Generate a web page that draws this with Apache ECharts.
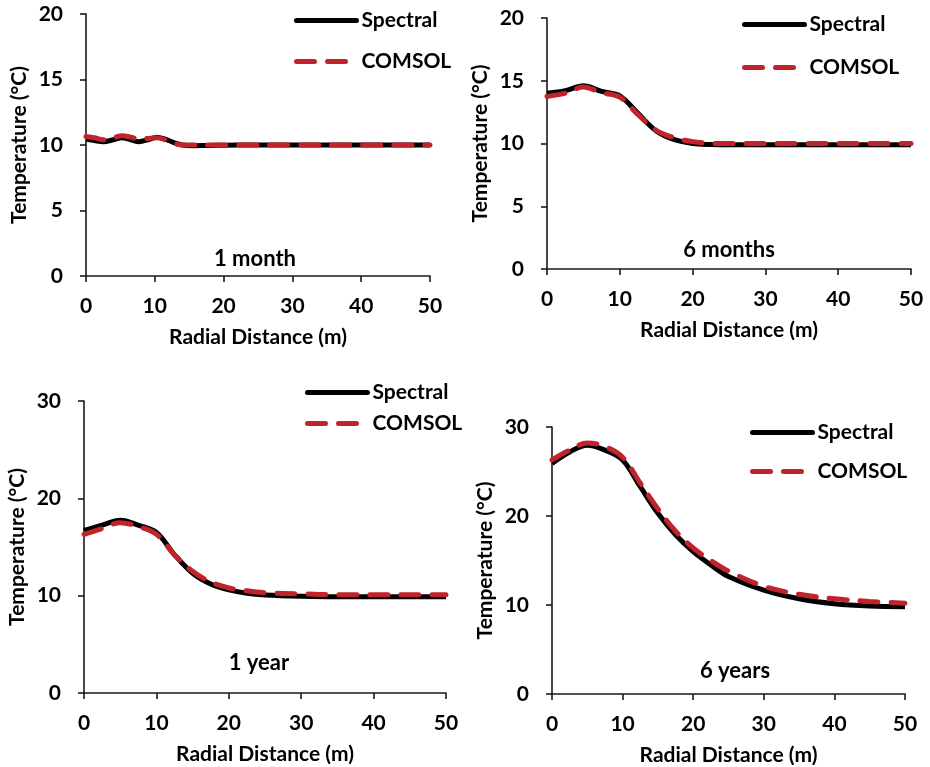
<!DOCTYPE html>
<html>
<head>
<meta charset="utf-8">
<script src="https://cdn.jsdelivr.net/npm/echarts@6/dist/echarts.min.js"></script>
<style>html,body{margin:0;padding:0;background:#fff}#c{width:930px;height:767px}</style>
</head>
<body>
<div id="c"></div>
<script>
// ---- data ----
const panelLabels = ['1 month', '6 months', '1 year', '6 years'];
const xTicks = [0, 10, 20, 30, 40, 50];

const x1 = [0, 1.2, 2.5, 4, 5.2, 6.5, 7.7, 9, 10.3, 11.5, 12.7, 14, 15.5, 18, 22, 30, 40, 50];
const spectral1 = [10.45, 10.35, 10.25, 10.4, 10.55, 10.4, 10.25, 10.4, 10.6, 10.45, 10.2, 10.0, 9.95, 9.97, 10, 10, 10, 10];
const comsol1 = [10.65, 10.55, 10.4, 10.55, 10.7, 10.6, 10.45, 10.5, 10.55, 10.4, 10.15, 10.0, 10.0, 10.0, 10, 10, 10, 10];

const xStd = [0, 2.5, 5, 7.5, 10, 12.5, 15, 17.5, 20, 22.5, 25, 30, 35, 40, 45, 50];
const spectral2 = [14.0, 14.2, 14.6, 14.15, 13.8, 12.4, 11.0, 10.3, 10.0, 9.92, 9.9, 9.9, 9.9, 9.9, 9.9, 9.9];
const comsol2 = [13.75, 14.0, 14.5, 14.05, 13.7, 12.3, 11.05, 10.45, 10.15, 10.02, 10.0, 10.0, 10.0, 10.0, 10.0, 10.0];

const spectral3 = [16.7, 17.25, 17.75, 17.25, 16.5, 14.2, 12.3, 11.2, 10.6, 10.25, 10.08, 9.95, 9.9, 9.9, 9.9, 9.9];
const comsol3 = [16.3, 16.9, 17.5, 17.1, 16.3, 14.2, 12.5, 11.4, 10.8, 10.5, 10.3, 10.18, 10.1, 10.1, 10.1, 10.1];

const spectral4 = [25.9, 27.2, 27.95, 27.4, 26.3, 23.3, 20.3, 17.9, 16.0, 14.5, 13.2, 11.67, 10.7, 10.14, 9.88, 9.8];
const comsol4 = [26.3, 27.4, 28.2, 27.8, 26.6, 23.7, 20.8, 18.3, 16.4, 15.0, 13.8, 12.1, 11.2, 10.7, 10.4, 10.2];

const yMax = [20, 20, 30, 30];
const yStep = [5, 5, 10, 10];

// ---- layout ----
const FONT = 'Lato';
const grids = [
  {left: 86, top: 14, width: 344, height: 262},
  {left: 547, top: 18, width: 364, height: 251},
  {left: 84, top: 401, width: 362, height: 292},
  {left: 552, top: 427, width: 353, height: 268}
];
const legendPos = [
  {left: 294, top: 10, gap: 20},
  {left: 742, top: 14, gap: 22},
  {left: 305, top: 382, gap: 10},
  {left: 750, top: 422, gap: 18}
];
const labelPos = [[255, 259], [729, 250], [259, 663], [735, 671]];

const pairs = (xs, ys) => xs.map((x, i) => [x, ys[i]]);
const seriesData = [
  [pairs(x1, spectral1), pairs(x1, comsol1)],
  [pairs(xStd, spectral2), pairs(xStd, comsol2)],
  [pairs(xStd, spectral3), pairs(xStd, comsol3)],
  [pairs(xStd, spectral4), pairs(xStd, comsol4)]
];

const axisLineStyle = {color: '#1a1a1a', width: 1.6};
const xAxes = [], yAxes = [], series = [], legends = [], graphics = [];
grids.forEach((g, i) => {
  xAxes.push({
    type: 'value', gridIndex: i, min: 0, max: 50, interval: 10,
    axisLine: {show: true, onZero: false, lineStyle: axisLineStyle},
    axisTick: {show: true, length: 6, lineStyle: axisLineStyle},
    splitLine: {show: false},
    axisLabel: {color: '#000', fontFamily: FONT, fontWeight: 'bold', fontSize: 21, margin: 20},
    name: 'Radial Distance (m)', nameLocation: 'middle', nameGap: 51,
    nameTextStyle: {color: '#000', fontFamily: FONT, fontWeight: 'bold', fontSize: 21}
  });
  yAxes.push({
    type: 'value', gridIndex: i, min: 0, max: yMax[i], interval: yStep[i],
    axisLine: {show: true, lineStyle: axisLineStyle},
    axisTick: {show: true, length: 6, lineStyle: axisLineStyle},
    splitLine: {show: false},
    axisLabel: {color: '#000', fontFamily: FONT, fontWeight: 'bold', fontSize: 21, margin: 23},
    name: 'Temperature (°C)', nameLocation: 'middle', nameGap: 56,
    nameTextStyle: {color: '#000', fontFamily: FONT, fontWeight: 'bold', fontSize: 21}
  });
  series.push({
    name: 'Spectral', type: 'line', xAxisIndex: i, yAxisIndex: i,
    data: seriesData[i][0], smooth: 0.35, symbol: 'none',
    lineStyle: {color: '#000', width: 5}, itemStyle: {color: '#000'}, z: 2
  });
  series.push({
    name: 'COMSOL', type: 'line', xAxisIndex: i, yAxisIndex: i,
    data: seriesData[i][1], smooth: 0.35, symbol: 'none',
    lineStyle: {color: '#c1232b', width: 5, type: [18, 13], cap: 'round'},
    itemStyle: {color: '#c1232b'}, z: 3
  });
  legends.push({
    data: ['Spectral', 'COMSOL'], orient: 'vertical',
    left: legendPos[i].left, top: legendPos[i].top, itemGap: legendPos[i].gap,
    itemWidth: 60, itemHeight: 20, padding: 0, selectedMode: false,
    itemStyle: {opacity: 0},
    lineStyle: {width: 'inherit', type: 'inherit', cap: 'round'},
    textStyle: {color: '#000', fontFamily: FONT, fontWeight: 'bold', fontSize: 21}
  });
  graphics.push({
    type: 'text', x: labelPos[i][0], y: labelPos[i][1],
    style: {text: panelLabels[i], fill: '#000', font: 'bold 22px ' + FONT, textAlign: 'center', textVerticalAlign: 'middle'}
  });
});

const chart = echarts.init(document.getElementById('c'), null, {renderer: 'canvas'});
chart.setOption({
  animation: false,
  grid: grids,
  xAxis: xAxes,
  yAxis: yAxes,
  series: series,
  legend: legends,
  graphic: graphics
});
</script>
</body>
</html>
